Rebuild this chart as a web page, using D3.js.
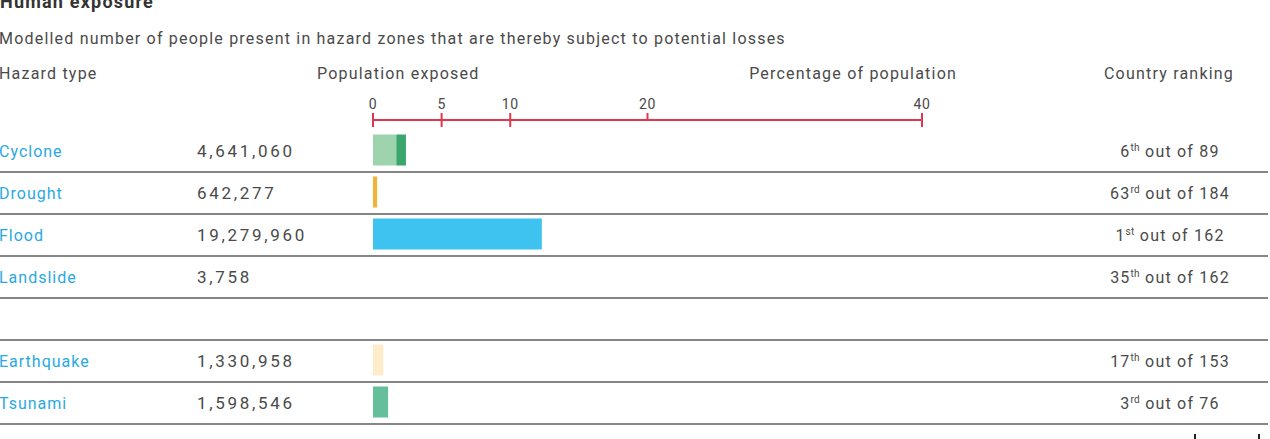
<!DOCTYPE html>
<html>
<head>
<meta charset="utf-8">
<script src="https://cdn.jsdelivr.net/npm/d3@7/dist/d3.min.js"></script>
<style>
  html, body { margin: 0; padding: 0; background: #fff; overflow: hidden; }
  svg { display: block; }
  text { font-family: "Roboto", "Liberation Sans", sans-serif; }
</style>
</head>
<body>
<svg id="chart" width="1270" height="439"></svg>
<script>
// ---- data ----
const hazards = ["Cyclone", "Drought", "Flood", "Landslide", "", "Earthquake", "Tsunami"];
const exposed = [4641060, 642277, 19279960, 3758, null, 1330958, 1598546];
const pctBase = [1.7, 0.3, 12.3, 0, null, 0.75, 1.1];     // % of population (main bar)
const pctExtra = [0.7, 0, 0, 0, null, 0, 0];               // extra (darker) cyclone segment
const rankPos = [6, 63, 1, 35, null, 17, 3];
const rankOf = [89, 184, 162, 162, null, 153, 76];
const axisTicks = [0, 5, 10, 20, 40];
const barColors = ["#9dd4ad", "#f5b233", "#3ec3f0", "#cccccc", null, "#fdebc9", "#66bf9b"];
const extraColor = "#3aa56c";

const svg = d3.select("#chart");
const grey = "#4a4a4a";
const blue = "#2aa9e0";
const red = "#e0364e";
const FS = 16;
const LS = "1.2px";

// title & subtitle
svg.append("text").attr("x", 0).attr("y", 8).attr("font-weight", "bold")
  .attr("font-size", 18).attr("fill", "#333").attr("letter-spacing", LS).text("Human exposure");
svg.append("text").attr("x", -1).attr("y", 44).attr("font-size", FS).attr("fill", grey)
  .attr("letter-spacing", LS)
  .text("Modelled number of people present in hazard zones that are thereby subject to potential losses");

// headers
const hy = 79;
svg.append("text").attr("x", -1).attr("y", hy).attr("font-size", FS).attr("fill", grey).attr("letter-spacing", LS).text("Hazard type");
svg.append("text").attr("x", 317).attr("y", hy).attr("font-size", FS).attr("fill", grey).attr("letter-spacing", LS).text("Population exposed");
svg.append("text").attr("x", 957).attr("y", hy).attr("text-anchor", "end").attr("font-size", FS).attr("fill", grey).attr("letter-spacing", LS).text("Percentage of population");
svg.append("text").attr("x", 1169).attr("y", hy).attr("text-anchor", "middle").attr("font-size", FS).attr("fill", grey).attr("letter-spacing", LS).text("Country ranking");

// scales
const x = d3.scaleLinear().domain([0, 40]).range([373, 922]);
const y = d3.scaleBand().domain(d3.range(hazards.length)).range([130, 424]).padding(0);

// axis
const axisY = 120;
const ax = svg.append("g");
ax.append("line").attr("x1", x(0)).attr("x2", x(40)).attr("y1", axisY).attr("y2", axisY)
  .attr("stroke", red).attr("stroke-width", 2);
ax.selectAll(".tk").data(axisTicks).join("line")
  .attr("x1", d => x(d)).attr("x2", d => x(d))
  .attr("y1", axisY - 7)
  .attr("y2", d => d === 20 ? axisY : axisY + 7)
  .attr("stroke", red).attr("stroke-width", 2);
ax.selectAll(".tl").data(axisTicks).join("text")
  .attr("x", d => x(d)).attr("y", 109).attr("text-anchor", "middle")
  .attr("font-size", 14).attr("fill", grey).attr("letter-spacing", "0.6px").text(d => d);

// rows
const fmt = d3.format(",");
function suffix(n) {
  const t = n % 100;
  if (t >= 11 && t <= 13) return "th";
  if (n % 10 === 1) return "st";
  if (n % 10 === 2) return "nd";
  if (n % 10 === 3) return "rd";
  return "th";
}
const idx = d3.range(hazards.length);

// separator lines
svg.selectAll(".sep").data(idx).join("line")
  .attr("x1", 0).attr("x2", 1268)
  .attr("y1", i => y(i) + y.bandwidth()).attr("y2", i => y(i) + y.bandwidth())
  .attr("stroke", "#858585").attr("stroke-width", 2);

const rows = idx.filter(i => hazards[i] !== "");
const bh = 31;
svg.selectAll(".bar").data(rows.filter(i => pctBase[i] > 0)).join("rect")
  .attr("x", x(0)).attr("width", i => x(pctBase[i]) - x(0))
  .attr("y", i => y(i) + y.bandwidth() / 2 - bh / 2 - 1).attr("height", bh)
  .attr("fill", i => barColors[i]);
svg.selectAll(".bar2").data(rows.filter(i => pctExtra[i] > 0)).join("rect")
  .attr("x", i => x(pctBase[i])).attr("width", i => x(pctBase[i] + pctExtra[i]) - x(pctBase[i]))
  .attr("y", i => y(i) + y.bandwidth() / 2 - bh / 2 - 1).attr("height", bh)
  .attr("fill", extraColor);

svg.selectAll(".hz").data(rows).join("text")
  .attr("x", -1).attr("y", i => y(i) + y.bandwidth() / 2 + 6)
  .attr("font-size", FS).attr("fill", blue).attr("letter-spacing", "1px").text(i => hazards[i]);
svg.selectAll(".num").data(rows).join("text")
  .attr("x", 197).attr("y", i => y(i) + y.bandwidth() / 2 + 6)
  .attr("font-size", 17).attr("fill", grey).attr("letter-spacing", "2.7px").text(i => fmt(exposed[i]));

const rk = svg.selectAll(".rk").data(rows).join("text")
  .attr("x", 1170).attr("y", i => y(i) + y.bandwidth() / 2 + 6)
  .attr("text-anchor", "middle").attr("font-size", FS).attr("fill", grey).attr("letter-spacing", LS);
rk.append("tspan").text(i => rankPos[i]);
rk.append("tspan").attr("font-size", 10).attr("letter-spacing", "0.3px").attr("dy", -6).text(i => suffix(rankPos[i]));
rk.append("tspan").attr("dy", 6).text(i => " out of " + rankOf[i]);

// cut-off marks of the next panel at the bottom
svg.selectAll(".cut").data([1195, 1259]).join("line")
  .attr("x1", d => d).attr("x2", d => d).attr("y1", 434).attr("y2", 439)
  .attr("stroke", "#222").attr("stroke-width", 2);
</script>
</body>
</html>
